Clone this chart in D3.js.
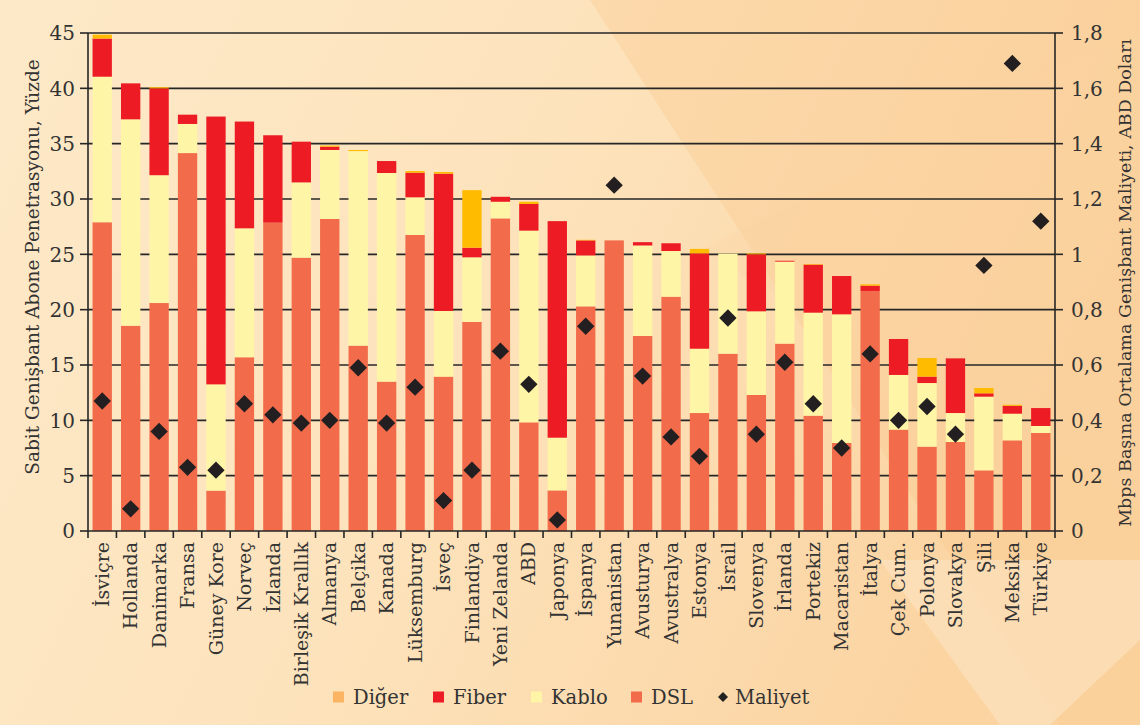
<!DOCTYPE html>
<html><head><meta charset="utf-8">
<script src="https://cdn.jsdelivr.net/npm/d3@7"></script>
<style>
html,body{margin:0;padding:0;background:#fde7c3;}
svg{display:block;font-family:"DejaVu Serif",serif;}
</style></head>
<body>
<svg id="chart" width="1140" height="725"></svg>
<script>
const countries = ["İsviçre","Hollanda","Danimarka","Fransa","Güney Kore","Norveç","İzlanda","Birleşik Krallık","Almanya","Belçika","Kanada","Lüksemburg","İsveç","Finlandiya","Yeni Zelanda","ABD","Japonya","İspanya","Yunanistan","Avusturya","Avustralya","Estonya","İsrail","Slovenya","İrlanda","Portekiz","Macaristan","İtalya","Çek Cum.","Polonya","Slovakya","Şili","Meksika","Türkiye"];
const dsl   = [27.9,18.55,20.6,34.15,3.65,15.7,27.86,24.7,28.2,16.75,13.5,26.75,13.95,18.9,28.25,9.82,3.67,20.3,26.26,17.62,21.17,10.66,16.02,12.29,16.93,10.42,7.95,21.69,9.16,7.62,8.04,5.48,8.19,8.86];
const kablo = [13.15,18.65,11.55,2.63,9.6,11.65,0,6.8,6.23,17.58,18.85,3.4,5.93,5.83,1.5,17.32,4.76,4.6,0,8.18,4.13,5.81,9.04,7.56,7.41,9.31,11.63,0,4.94,5.75,2.62,6.66,2.41,0.63];
const fiber = [3.45,3.25,7.85,0.84,24.2,9.65,7.9,3.68,0.3,0,1.08,2.23,12.41,0.87,0.45,2.41,19.57,1.36,0,0.3,0.7,8.62,0,5.15,0.08,4.34,3.46,0.48,3.25,0.58,4.94,0.3,0.72,1.62];
const diger = [0.35,0,0.1,0,0,0,0,0,0.1,0.1,0,0.15,0.15,5.2,0,0.2,0,0.05,0,0,0,0.4,0,0.08,0,0.05,0,0.12,0,1.68,0,0.48,0.09,0];
const maliyet = [0.47,0.08,0.36,0.23,0.22,0.46,0.42,0.39,0.40,0.59,0.39,0.52,0.11,0.22,0.65,0.53,0.04,0.74,1.25,0.56,0.34,0.27,0.77,0.35,0.61,0.46,0.30,0.64,0.40,0.45,0.35,0.96,1.69,1.12];
const leftTicks = [0,5,10,15,20,25,30,35,40,45];
const rightTicks = [0,0.2,0.4,0.6,0.8,1,1.2,1.4,1.6,1.8];
const rightTickLabels = ["0","0,2","0,4","0,6","0,8","1","1,2","1,4","1,6","1,8"];
const seriesNames = ["DSL","Kablo","Fiber","Diğer"];
const seriesColors = {"DSL":"#f26b4b","Kablo":"#fff5a6","Fiber":"#ed1c24","Diğer":"#ffbb00"};
const legendItems = [
  {name:"Diğer", color:"#fbb463", type:"rect"},
  {name:"Fiber", color:"#ed1c24", type:"rect"},
  {name:"Kablo", color:"#fff5a6", type:"rect"},
  {name:"DSL", color:"#f26b4b", type:"rect"},
  {name:"Maliyet", color:"#222", type:"diamond"}
];

const svg = d3.select("#chart");
const W = 1140, H = 725;
const L = 88, R = 1055, T = 33, B = 531;

// background
const defs = svg.append("defs");
const g1 = defs.append("linearGradient").attr("id","bg").attr("x1","0").attr("y1","0").attr("x2","1").attr("y2","0.3");
g1.append("stop").attr("offset","0").attr("stop-color","#fde9c8");
g1.append("stop").attr("offset","0.5").attr("stop-color","#fde3bc");
g1.append("stop").attr("offset","1").attr("stop-color","#fbd4a2");
svg.append("rect").attr("width",W).attr("height",H).attr("fill","url(#bg)");
svg.append("polygon").attr("points","590,0 1140,0 1140,725 1060,725").attr("fill","#f9ca90").attr("opacity",0.4);
svg.append("polygon").attr("points","700,250 1140,30 1140,500").attr("fill","#fbd3a2").attr("opacity",0.3);
svg.append("polygon").attr("points","880,560 1140,560 1140,640 1050,725 1000,725").attr("fill","#fde6c6").attr("opacity",0.55);

const x = d3.scaleBand().domain(countries).range([L,R]).paddingInner(0.32).paddingOuter(0.16);
const y = d3.scaleLinear().domain([0,45]).range([B,T]);
const y2 = d3.scaleLinear().domain([0,1.8]).range([B,T]);

// gridlines
svg.append("g").selectAll("line").data(leftTicks.filter(d=>d>0)).join("line")
  .attr("x1",L).attr("x2",R).attr("y1",d=>y(d)).attr("y2",d=>y(d))
  .attr("stroke","#262626").attr("stroke-width",1.6);

// stacked bars
const rows = countries.map((c,i)=>({country:c,"DSL":dsl[i],"Kablo":kablo[i],"Fiber":fiber[i],"Diğer":diger[i]}));
const stack = d3.stack().keys(seriesNames)(rows);
svg.append("g").selectAll("g").data(stack).join("g")
  .attr("fill",d=>seriesColors[d.key])
  .selectAll("rect").data(d=>d.filter(s=>s[1]-s[0]>0)).join("rect")
  .attr("x",d=>x(d.data.country)).attr("width",x.bandwidth())
  .attr("y",d=>y(d[1])).attr("height",d=>y(d[0])-y(d[1]));

// diamonds
const sym = d3.symbol().type(d3.symbolSquare).size(150);
svg.append("g").selectAll("path").data(maliyet).join("path")
  .attr("d",sym).attr("fill","#231f20")
  .attr("transform",(d,i)=>`translate(${x(countries[i])+x.bandwidth()/2},${y2(d)}) rotate(45)`);

// axes
const ax = svg.append("g").attr("stroke","#262626").attr("stroke-width",1.6);
ax.append("line").attr("x1",L).attr("x2",L).attr("y1",T).attr("y2",B);
ax.append("line").attr("x1",R).attr("x2",R).attr("y1",T).attr("y2",B);
ax.append("line").attr("x1",L).attr("x2",R).attr("y1",B).attr("y2",B);
ax.selectAll(".lt").data(leftTicks).join("line").attr("x1",L-8).attr("x2",L).attr("y1",d=>y(d)).attr("y2",d=>y(d));
ax.selectAll(".rt").data(rightTicks).join("line").attr("x1",R).attr("x2",R+8).attr("y1",d=>y2(d)).attr("y2",d=>y2(d));
const bounds = countries.map(c=>x(c)-x.step()*x.paddingInner()/2).concat([R]);
ax.selectAll(".bt").data(bounds).join("line").attr("x1",d=>d).attr("x2",d=>d).attr("y1",B).attr("y2",B+7);

const txt = "#333";
svg.append("g").selectAll("text").data(leftTicks).join("text")
  .attr("x",L-13).attr("y",d=>y(d)).attr("dy","0.36em").attr("text-anchor","end")
  .attr("font-size",20).attr("fill",txt).text(d=>d);
svg.append("g").selectAll("text").data(rightTicks).join("text")
  .attr("x",R+16).attr("y",d=>y2(d)).attr("dy","0.36em").attr("text-anchor","start")
  .attr("font-size",20).attr("fill",txt).text((d,i)=>rightTickLabels[i]);

// x labels
svg.append("g").selectAll("text").data(countries).join("text")
  .attr("transform",d=>`translate(${x(d)+x.bandwidth()/2},${B+11}) rotate(-90)`)
  .attr("dy","0.35em").attr("text-anchor","end").attr("font-size",19).attr("fill",txt).text(d=>d);

// axis titles
svg.append("text").attr("transform",`translate(33,${267}) rotate(-90)`)
  .attr("text-anchor","middle").attr("dy","0.35em").attr("font-size",18.5).attr("fill",txt)
  .text("Sabit Genişbant Abone Penetrasyonu, Yüzde");
svg.append("text").attr("transform",`translate(1125,${283}) rotate(-90)`)
  .attr("text-anchor","middle").attr("dy","0.35em").attr("font-size",17.5).attr("fill",txt)
  .text("Mbps Başına Ortalama Genişbant Maliyeti, ABD Doları");

// legend
const legX = [333,433,531,631,718];
const lg = svg.append("g").selectAll("g").data(legendItems).join("g")
  .attr("transform",(d,i)=>`translate(${legX[i]},697)`);
lg.filter(d=>d.type==="rect").append("rect").attr("x",0).attr("y",-5.5).attr("width",11).attr("height",11).attr("fill",d=>d.color);
lg.filter(d=>d.type==="diamond").append("path").attr("d",d3.symbol().type(d3.symbolSquare).size(50)).attr("transform","translate(5,0) rotate(45)").attr("fill",d=>d.color);
lg.append("text").attr("x",d=>d.type==="rect"?20:17).attr("dy","0.36em").attr("font-size",19.5).attr("fill",txt).text(d=>d.name);
</script>
</body></html>
